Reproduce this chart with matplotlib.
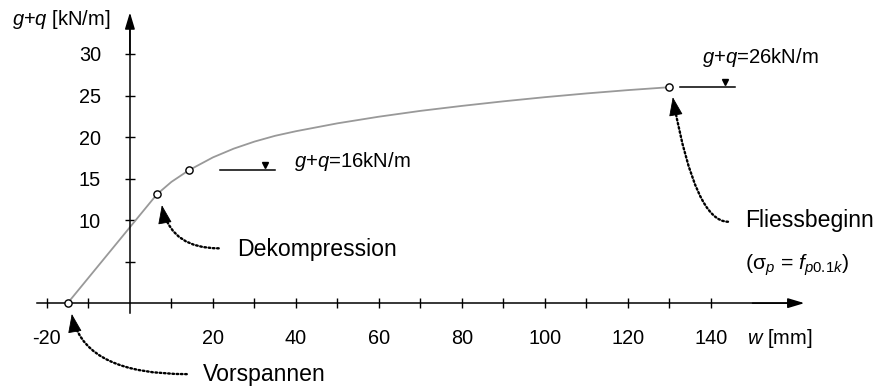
import matplotlib
matplotlib.use("Agg")
import matplotlib.pyplot as plt

plt.rcParams['font.family'] = ['Liberation Sans', 'DejaVu Sans']
plt.rcParams['mathtext.fontset'] = 'custom'
plt.rcParams['mathtext.rm'] = 'Liberation Sans'
plt.rcParams['mathtext.it'] = 'Liberation Sans:italic'

# load-deflection curve
w_curve = [-15, 6.5, 10, 14.2, 20, 25, 30, 35, 40, 50, 60, 70, 80, 90, 100, 110, 120, 130]
q_curve = [0, 13.1, 14.6, 16.0, 17.55, 18.6, 19.45, 20.15, 20.7, 21.65, 22.45, 23.15,
           23.75, 24.3, 24.8, 25.25, 25.65, 26.0]

# marked states: Vorspannen, Dekompression, g+q=16, Fliessbeginn
w_pts = [-15, 6.5, 14.2, 130]
q_pts = [0, 13.1, 16.0, 26.0]

x_ticks = [-20, -10, 10, 20, 30, 40, 50, 60, 70, 80, 90, 100, 110, 120, 130, 140]
x_labels = ['-20', '', '', '20', '', '40', '', '60', '', '80', '', '100', '', '120', '', '140']
y_ticks = [5, 10, 15, 20, 25, 30]
y_labels = ['', '10', '15', '20', '25', '30']

fig = plt.figure(figsize=(8.77, 3.92), dpi=100)
ax = fig.add_axes([0, 0, 1, 1])
ax.set_xlim(-31.3, 180)
ax.set_ylim(-10.7, 36.5)

# axes through the origin
for s in ['top', 'right']:
    ax.spines[s].set_visible(False)
ax.spines['left'].set_position(('data', 0))
ax.spines['bottom'].set_position(('data', 0))
ax.spines['bottom'].set_bounds(-22.5, 160)
ax.spines['left'].set_bounds(-1.2, 33)
for s in ['left', 'bottom']:
    ax.spines[s].set_linewidth(1.1)
ax.patch.set_visible(False)

arrow_kw = dict(arrowstyle='-|>,head_length=0.5,head_width=0.15', color='black',
                lw=1.1, shrinkA=0, shrinkB=0, mutation_scale=20)
ax.annotate('', xy=(162.5, 0), xytext=(150, 0), arrowprops=arrow_kw)
ax.annotate('', xy=(0, 35.0), xytext=(0, 30), arrowprops=arrow_kw)

ax.set_xticks(x_ticks)
ax.set_xticklabels(x_labels)
ax.set_yticks(y_ticks)
ax.set_yticklabels(y_labels)
ax.tick_params(direction='inout', length=7.5, width=1.0, labelsize=14.3)
ax.tick_params(axis='x', pad=15)
ax.tick_params(axis='y', pad=17)

# curve and points
ax.plot(w_curve, q_curve, color='#999999', lw=1.3, zorder=2)
ax.plot(w_pts, q_pts, linestyle='none', marker='o', ms=5.2, mfc='white',
        mec='black', mew=1.0, zorder=3, clip_on=False)

# axis titles
ax.text(-4.6, 34.2, '$g$+$q$ [kN/m]', ha='right', va='center', fontsize=14.5)
ax.text(148.6, -4.3, '$w$ [mm]', ha='left', va='center', fontsize=14.5)

# load levels
ax.plot([21.7, 34.9], [16.0, 16.0], color='black', lw=1.1)
ax.plot([32.5], [16.65], marker='v', color='black', ms=4.5)
ax.text(39.5, 17.0, '$g$+$q$=16kN/m', ha='left', va='center', fontsize=14.6)

ax.plot([132.5, 145.8], [26.0, 26.0], color='black', lw=1.1)
ax.plot([143.4], [26.65], marker='v', color='black', ms=4.5)
ax.text(137.8, 29.6, '$g$+$q$=26kN/m', ha='left', va='center', fontsize=14.6)


def dotted_arrow(start, tip):
    # dotted bent leader, then a solid head at the tip
    ax.annotate('', xy=tip, xytext=start,
                arrowprops=dict(arrowstyle='-', color='black', lw=1.7,
                                linestyle=(0, (0.7, 1.1)), shrinkA=0, shrinkB=5,
                                connectionstyle='angle3,angleA=0,angleB=100'))
    ax.annotate('', xy=tip, xytext=(tip[0] + 0.6, tip[1] - 1.75),
                arrowprops=dict(arrowstyle='-|>,head_length=0.6,head_width=0.22',
                                color='black', lw=0.6, shrinkA=0, shrinkB=0,
                                mutation_scale=20))


dotted_arrow((13.7, -8.55), (-14.0, -1.3))
ax.text(17.6, -8.6, 'Vorspannen', ha='left', va='center', fontsize=16.6)

dotted_arrow((21.4, 6.6), (7.7, 11.8))
ax.text(25.8, 6.5, 'Dekompression', ha='left', va='center', fontsize=16.6)

dotted_arrow((144.1, 9.8), (130.8, 24.8))
ax.text(148.3, 10.0, 'Fliessbeginn', ha='left', va='center', fontsize=16.6)
ax.text(148.3, 4.6, r'(σ$_p$ = $f_{\mathit{p0.1k}}$)', ha='left', va='center', fontsize=15.3)

fig.savefig('out.png', dpi=100)
